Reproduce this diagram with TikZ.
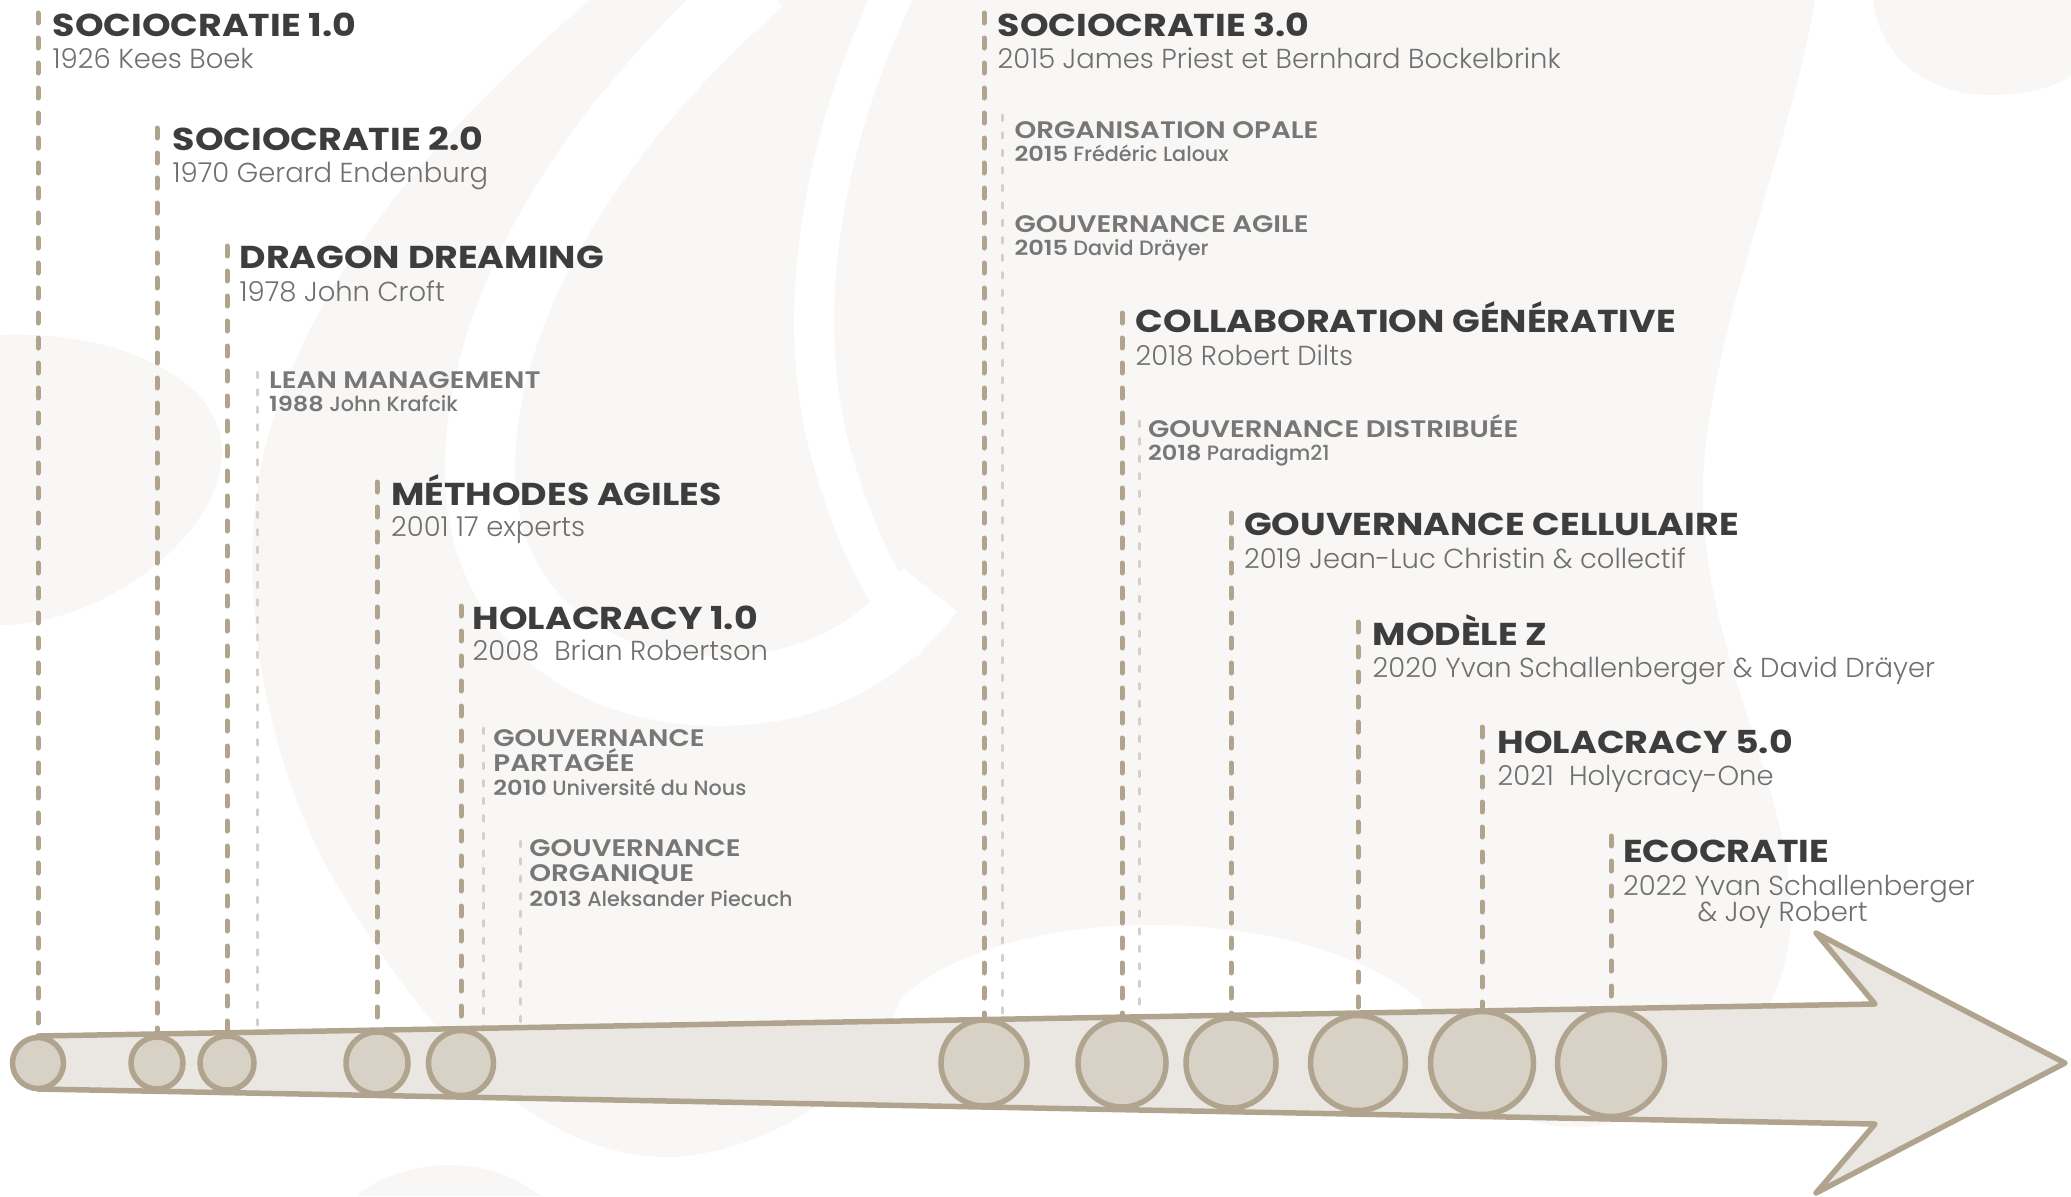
\documentclass[tikz,border=0pt]{standalone}
\usepackage{fontspec}
\setmainfont{Poppins}
\newfontfamily\headfont{Poppins Bold}[FakeStretch=1.15]
\newfontfamily\minheadfont{Poppins SemiBold}[FakeStretch=1.16]
\newfontfamily\lightfont{Poppins Light}
\newfontfamily\medfont{Poppins Medium}
\usetikzlibrary{calc}

\definecolor{taupe}{HTML}{B0A48E}
\definecolor{sand}{HTML}{D7CFC3}
\definecolor{shaftfill}{HTML}{EAE7E2}
\definecolor{beadfill}{HTML}{D8D1C6}
\definecolor{inkdark}{HTML}{3D3D3D}
\definecolor{inkgray}{HTML}{6F6F6F}
\definecolor{inkmid}{HTML}{777777}
\definecolor{haze}{HTML}{F8F7F5}

\tikzset{
	head/.style={anchor=base west, inner sep=0pt, text=inkdark, font=\headfont\fontsize{9}{9}\selectfont},
	who/.style={anchor=base west, inner sep=0pt, text=inkgray, font=\lightfont\fontsize{7.8}{7.8}\selectfont},
	minhead/.style={anchor=base west, inner sep=0pt, text=inkmid, font=\minheadfont\fontsize{6.8}{6.8}\selectfont},
	minwho/.style={anchor=base west, inner sep=0pt, text=inkmid, font=\medfont\fontsize{5.9}{5.9}\selectfont},
	era/.style={draw=taupe, line width=0.5mm, line cap=round, dash pattern=on 1.0mm off 1.5mm},
	subera/.style={draw=sand, line width=0.3mm, line cap=round, dash pattern=on 0.55mm off 1.2mm},
	bead/.style={circle, draw=taupe, fill=beadfill, line width=0.55mm, inner sep=0pt},
	shaft/.style={draw=taupe, fill=shaftfill, line width=0.55mm, line join=round}
}

\begin{document}
\begin{tikzpicture}[x=0.1mm, y=-0.1mm]

	\useasboundingbox (0,0) rectangle (2071,1196);

	% faded logo behind the timeline
	\fill[haze] (590,0) -- (1815,0) .. controls (1790,150) and (1710,330) .. (1703,480) .. controls (1698,650) and (1800,800) .. (1790,930) .. controls (1780,1060) and (1650,1130) .. (1573,1127) .. controls (1500,1125) and (1440,1080) .. (1420,1000) .. controls (1300,900) and (1000,900) .. (900,1000) .. controls (870,1100) and (740,1160) .. (660,1157) .. controls (520,1150) and (420,1020) .. (340,890) .. controls (260,760) and (230,560) .. (270,430) .. controls (320,260) and (450,120) .. (590,0) -- cycle;
	\draw[white, line width=7mm] (760,-20) .. controls (600,120) and (480,300) .. (480,470) .. controls (480,620) and (600,700) .. (740,690) .. controls (830,685) and (890,640) .. (930,590);
	\draw[white, line width=4mm] (900,-20) .. controls (830,120) and (790,300) .. (830,450) .. controls (860,560) and (900,620) .. (930,640);
	\fill[haze] (0,335) .. controls (120,330) and (225,380) .. (222,455) .. controls (218,540) and (100,625) .. (0,625) -- cycle;
	\fill[haze] (1873,0) .. controls (1880,60) and (1930,95) .. (1990,95) .. controls (2030,95) and (2060,85) .. (2071,75) -- (2071,0) -- cycle;
	\fill[haze] (357,1196) .. controls (380,1175) and (420,1165) .. (450,1165) .. controls (490,1165) and (520,1180) .. (541,1196) -- cycle;

	% points on the axis
	\coordinate (a1) at (38,1063);
	\coordinate (a2) at (157,1063);
	\coordinate (a3) at (227,1063);
	\coordinate (a4) at (377,1063);
	\coordinate (a5) at (461,1063);
	\coordinate (a6) at (984,1063);
	\coordinate (a7) at (1122,1063);
	\coordinate (a8) at (1231,1063);
	\coordinate (a9) at (1358,1063);
	\coordinate (a10) at (1482,1063);
	\coordinate (a11) at (1611,1063);

	\coordinate (b1) at (257.6,1063);
	\coordinate (b2) at (483,1063);
	\coordinate (b3) at (520.7,1063);
	\coordinate (b4) at (1002,1063);
	\coordinate (b5) at (1139.5,1063);

	% tops of the dashed lines
	\coordinate (top1) at (38,13);
	\coordinate (top2) at (157,128);
	\coordinate (top3) at (227,246);
	\coordinate (top4) at (377,482);
	\coordinate (top5) at (461,606);
	\coordinate (top6) at (984,13);
	\coordinate (top7) at (1122,313);
	\coordinate (top8) at (1231,513);
	\coordinate (top9) at (1358,622);
	\coordinate (top10) at (1482,727);
	\coordinate (top11) at (1611,836);

	\coordinate (sub1) at (257.6,372);
	\coordinate (sub2) at (483,728);
	\coordinate (sub3) at (520.7,841);
	\coordinate (sub4) at (1002,115);
	\coordinate (sub5) at (1139.5,421);

	\draw[subera] (sub1) -- (b1);
	\draw[subera] (sub2) -- (b2);
	\draw[subera] (sub3) -- (b3);
	\draw[subera] (sub4) -- (b4);
	\draw[subera] (sub5) -- (b5);

	\draw[era] (top1) -- (a1);
	\draw[era] (top2) -- (a2);
	\draw[era] (top3) -- (a3);
	\draw[era] (top4) -- (a4);
	\draw[era] (top5) -- (a5);
	\draw[era] (top6) -- (a6);
	\draw[era] (top7) -- (a7);
	\draw[era] (top8) -- (a8);
	\draw[era] (top9) -- (a9);
	\draw[era] (top10) -- (a10);
	\draw[era] (top11) -- (a11);

	% the arrow
	\draw[shaft] (38,1036) -- (1875,1004) -- (1816,933) -- (2065,1063) -- (1816,1193) -- (1875,1124) -- (38,1089) -- cycle;

	\node[bead, minimum size=5.1mm] (c1) at (a1) {};
	\node[bead, minimum size=5.2mm] (c2) at (a2) {};
	\node[bead, minimum size=5.4mm] (c3) at (a3) {};
	\node[bead, minimum size=6.2mm] (c4) at (a4) {};
	\node[bead, minimum size=6.5mm] (c5) at (a5) {};
	\node[bead, minimum size=8.6mm] (c6) at (a6) {};
	\node[bead, minimum size=8.8mm] (c7) at (a7) {};
	\node[bead, minimum size=9.0mm] (c8) at (a8) {};
	\node[bead, minimum size=9.5mm] (c9) at (a9) {};
	\node[bead, minimum size=10.3mm] (c10) at (a10) {};
	\node[bead, minimum size=10.7mm] (c11) at (a11) {};

	% main labels
	\node[head] (s1) at (52,36.6) {SOCIOCRATIE 1.0};
	\node[who] (s1y) at (52,68.5) {1926 Kees Boek};
	\node[head] (s2) at (172,150) {SOCIOCRATIE 2.0};
	\node[who] (s2y) at (172,182) {1970 Gerard Endenburg};
	\node[head] (dd) at (239,268.5) {DRAGON DREAMING};
	\node[who] (ddy) at (239,301) {1978 John Croft};
	\node[head] (ma) at (390.5,505) {MÉTHODES AGILES};
	\node[who] (may) at (390.5,536) {2001 17 experts};
	\node[head] (h1) at (472,629) {HOLACRACY 1.0};
	\node[who] (h1y) at (472,660.5) {2008\ \ Brian Robertson};

	\node[head] (s3) at (997,36.6) {SOCIOCRATIE 3.0};
	\node[who] (s3y) at (997,68.5) {2015 James Priest et Bernhard Bockelbrink};
	\node[head] (cg) at (1135,332.3) {COLLABORATION GÉNÉRATIVE};
	\node[who] (cgy) at (1135,365) {2018 Robert Dilts};
	\node[head] (gc) at (1243.4,535) {GOUVERNANCE CELLULAIRE};
	\node[who] (gcy) at (1243.4,568) {2019 Jean-Luc Christin \& collectif};
	\node[head] (mz) at (1372,645) {MODÈLE Z};
	\node[who] (mzy) at (1372,677) {2020 Yvan Schallenberger \& David Dräyer};
	\node[head] (h5) at (1497,753.3) {HOLACRACY 5.0};
	\node[who] (h5y) at (1497,785) {2021\ \ Holycracy-One};
	\node[head] (ec) at (1622.5,862.3) {ECOCRATIE};
	\node[who] (ecy) at (1622.5,895) {2022 Yvan Schallenberger};
	\node[who] (ecy2) at (1697,921.7) {\& Joy Robert};

	% side labels
	\node[minhead] (lm) at (268.5,388) {LEAN MANAGEMENT};
	\node[minwho] (lmy) at (268.5,411.7) {{\minheadfont 1988} John Krafcik};
	\node[minhead] (gp) at (492.7,746.7) {GOUVERNANCE};
	\node[minhead] (gp2) at (492.7,771.7) {PARTAGÉE};
	\node[minwho] (gpy) at (492.7,795.7) {{\minheadfont 2010} Université du Nous};
	\node[minhead] (go) at (528.7,856.7) {GOUVERNANCE};
	\node[minhead] (go2) at (528.7,881.7) {ORGANIQUE};
	\node[minwho] (goy) at (528.7,906) {{\minheadfont 2013} Aleksander Piecuch};
	\node[minhead] (oo) at (1013.8,138.3) {ORGANISATION OPALE};
	\node[minwho] (ooy) at (1013.8,161.7) {{\minheadfont 2015} Frédéric Laloux};
	\node[minhead] (ga) at (1013.8,232.3) {GOUVERNANCE AGILE};
	\node[minwho] (gay) at (1013.8,255.7) {{\minheadfont 2015} David Dräyer};
	\node[minhead] (gd) at (1147.3,437.3) {GOUVERNANCE DISTRIBUÉE};
	\node[minwho] (gdy) at (1147.3,460) {{\minheadfont 2018} Paradigm21};

\end{tikzpicture}
\end{document}
